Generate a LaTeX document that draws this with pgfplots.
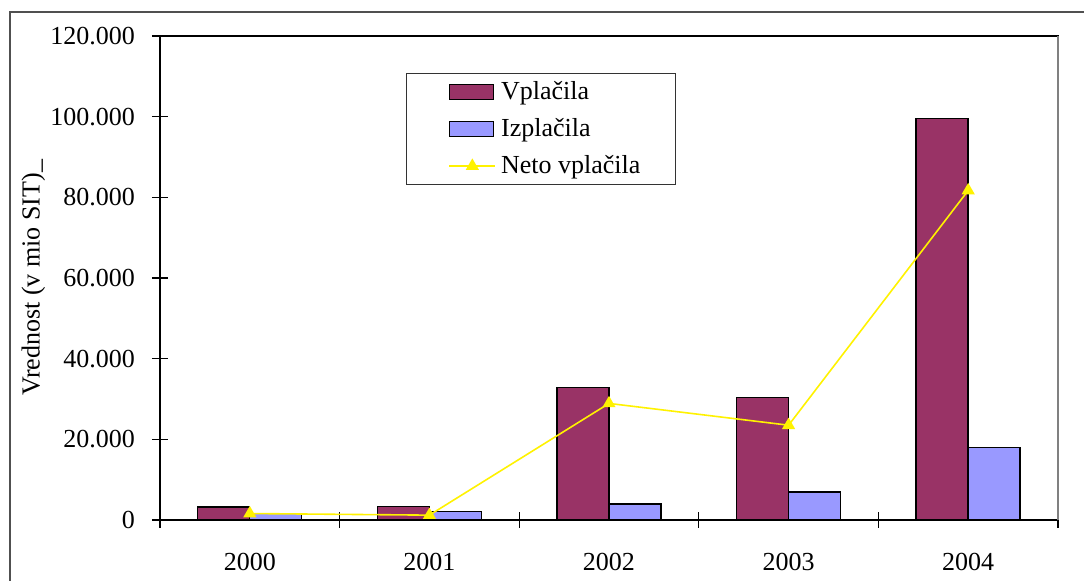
\documentclass[border=0pt]{standalone}
\usepackage{fontspec}
\setmainfont{Liberation Serif}
\usepackage{pgfplots}
\pgfplotsset{compat=1.18}
\definecolor{vpl}{RGB}{153,51,102}
\definecolor{izp}{RGB}{153,153,255}
\definecolor{frm}{RGB}{80,80,80}
\pgfplotsset{
  barlegend/.style={legend image code/.code={\path (-5.5pt,0pt) (23.5pt,0pt);\draw[##1] (0pt,-3.75pt) rectangle (22pt,3.75pt);}},
  linelegend/.style={legend image code/.code={\path (-5.5pt,0pt) (23.5pt,0pt);\draw[##1, mark repeat=2, mark phase=2] plot coordinates {(0pt,0pt) (11.5pt,0pt) (23pt,0pt)};}},
}
\begin{document}
\begin{tikzpicture}[font=\fontsize{13}{15.6}\selectfont]
\path[use as bounding box] (0pt,0pt) rectangle (542pt,290.5pt);
\draw[frm,line width=1pt] (5pt,-3pt) -- (5pt,284.5pt) -- (545pt,284.5pt);
\begin{axis}[
  at={(80pt,30.5pt)}, anchor=south west,
  scale only axis, width=449pt, height=242pt,
  xmin=-0.5, xmax=4.5, ymin=0, ymax=120,
  axis line style={black, line width=0.6pt},
  xtick={0,1,2,3,4},
  xticklabels={2000,2001,2002,2003,2004},
  major x tick style={draw=none},
  minor xtick={-0.5,0.5,1.5,2.5,3.5,4.5},
  ytick={0,20,40,60,80,100,120},
  yticklabels={0,20.000,40.000,60.000,80.000,100.000,120.000},
  xtick pos=bottom, ytick pos=left,
  tick align=center,
  major tick length=8pt, minor tick length=8pt,
  tick style={black, line width=0.6pt},
  xticklabel style={yshift=-9pt},
  yticklabel style={xshift=-5pt},
  ylabel={Vrednost (v mio SIT)\_},
  ylabel style={at={(axis description cs:-0.141,0.5)}, anchor=center},
  legend cell align=left,
  legend style={at={(rel axis cs:0.274,0.924)}, anchor=north west,
    draw=black!80, line width=0.5pt, inner xsep=15.5pt, inner ysep=2pt,
    row sep=4pt},
  clip=false,
]
\addplot[ybar, bar width=26pt, bar shift=-13pt, fill=vpl, draw=black, line width=0.7pt, barlegend]
  coordinates {(0,3.2) (1,3.3) (2,32.9) (3,30.4) (4,99.6)};
\addlegendentry{Vplačila}
\addplot[ybar, bar width=26pt, bar shift=13pt, fill=izp, draw=black, line width=0.7pt, barlegend]
  coordinates {(0,1.6) (1,2.1) (2,4.0) (3,6.9) (4,17.9)};
\addlegendentry{Izplačila}
\addplot[sharp plot, yellow, line width=0.8pt, mark=triangle*, mark size=3pt,
  mark options={fill=yellow, draw=yellow}, linelegend]
  coordinates {(0,1.6) (1,1.2) (2,28.9) (3,23.5) (4,81.7)};
\addlegendentry{Neto vplačila}
\draw[gray, line width=1pt] (rel axis cs:1,0) -- (rel axis cs:1,1);
\end{axis}
\end{tikzpicture}
\end{document}
